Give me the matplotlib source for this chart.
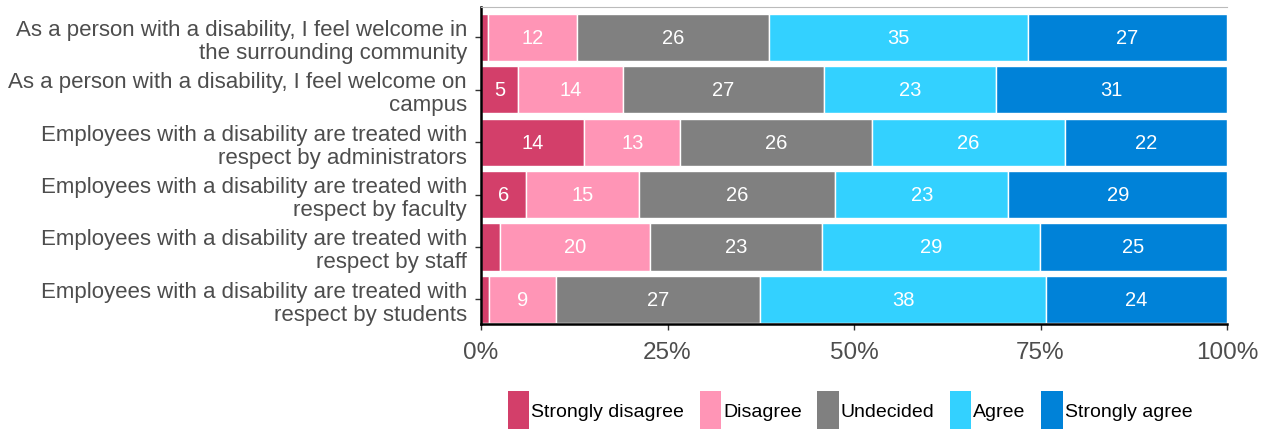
import matplotlib.pyplot as plt
import numpy as np
from matplotlib.patches import Patch

plt.rcParams['font.family'] = ['Liberation Sans', 'DejaVu Sans']

questions = [
    'As a person with a disability, I feel welcome in\nthe surrounding community',
    'As a person with a disability, I feel welcome on\ncampus',
    'Employees with a disability are treated with\nrespect by administrators',
    'Employees with a disability are treated with\nrespect by faculty',
    'Employees with a disability are treated with\nrespect by staff',
    'Employees with a disability are treated with\nrespect by students',
]
levels = ['Strongly disagree', 'Disagree', 'Undecided', 'Agree', 'Strongly agree']
colors = ['#D33F6A', '#FF95B6', '#808080', '#33D1FF', '#0082D8']

strongly_disagree = [1, 5, 14, 6, 2.5, 1]
disagree = [12, 14, 13, 15, 20, 9]
undecided = [26, 27, 26, 26, 23, 27]
agree = [35, 23, 26, 23, 29, 38]
strongly_agree = [27, 31, 22, 29, 25, 24]

data = np.array([strongly_disagree, disagree, undecided, agree, strongly_agree], dtype=float)
shares = data / data.sum(axis=0) * 100

fig = plt.figure(figsize=(12.66, 4.31), dpi=100)
ax = fig.add_axes([481 / 1266, 1 - 325 / 431, 746 / 1266, 317 / 431])

y = np.arange(len(questions))
left = np.zeros(len(questions))
for i, lev in enumerate(levels):
    ax.barh(y, shares[i], left=left, height=0.9, color=colors[i],
            edgecolor='white', linewidth=1)
    for j in range(len(questions)):
        if data[i, j] >= 5:
            ax.text(left[j] + shares[i, j] / 2, y[j], '%d' % round(data[i, j]),
                    ha='center', va='center', color='white', fontsize=14.5)
    left += shares[i]

ax.set_xlim(0, 100)
ax.set_ylim(len(questions) - 0.53, -0.58)
ax.set_yticks(y)
ax.set_yticklabels(questions, fontsize=16, color='#4D4D4D', linespacing=1.12)
ax.set_xticks([0, 25, 50, 75, 100])
ax.set_xticklabels(['0%', '25%', '50%', '75%', '100%'], fontsize=17.5, color='#4D4D4D')
ax.tick_params(axis='both', length=4, width=1, color='#333333')
ax.tick_params(axis='x', pad=8)
ax.tick_params(axis='y', pad=6)
ax.spines['left'].set_linewidth(1.8)
ax.spines['bottom'].set_linewidth(1.8)
ax.spines['top'].set_color('#BBBBBB')
ax.spines['right'].set_visible(False)

handles = [Patch(facecolor=c, label=l) for c, l in zip(colors, levels)]
fig.legend(handles=handles, loc='center', bbox_to_anchor=(850 / 1266, 1 - 411 / 431),
           ncol=5, frameon=False, fontsize=14, handlelength=1.1, handleheight=2.6,
           handletextpad=0.1, columnspacing=0.8)

fig.savefig('out.png', dpi=100)
